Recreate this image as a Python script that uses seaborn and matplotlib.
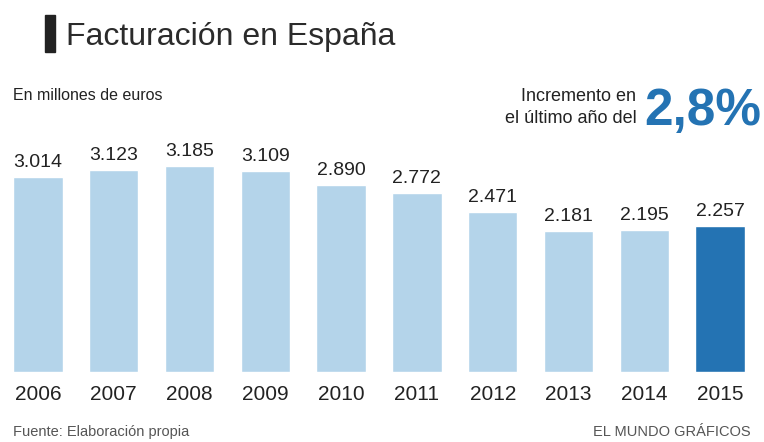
import numpy as np
import matplotlib
matplotlib.use('Agg')
import matplotlib.pyplot as plt
import pandas as pd
import seaborn as sns
from matplotlib.patches import Rectangle

years = ['2006', '2007', '2008', '2009', '2010', '2011', '2012', '2013', '2014', '2015']
values = [3014, 3123, 3185, 3109, 2890, 2772, 2471, 2181, 2195, 2257]
labels = ['3.014', '3.123', '3.185', '3.109', '2.890', '2.772', '2.471', '2.181', '2.195', '2.257']

light = '#b4d4ea'
dark = '#2473b3'

df = pd.DataFrame({'year': years, 'value': values})
df['grupo'] = ['last' if y == years[-1] else 'other' for y in years]

sns.set_style('white')
plt.rcParams['font.family'] = ['Liberation Sans', 'DejaVu Sans']

fig = plt.figure(figsize=(7.64, 4.42), dpi=100)
ax = fig.add_axes([0.0, 0.158, 758 / 764, 0.498])

sns.barplot(data=df, x='year', y='value', hue='grupo',
            palette={'other': light, 'last': dark},
            width=0.65, legend=False, ax=ax, saturation=1)

ax.set_ylim(0, 3400)
ax.set_xlim(-0.5, len(years) - 0.5)
for i, (v, lab) in enumerate(zip(values, labels)):
    ax.text(i, v + 90, lab, ha='center', va='bottom', fontsize=14, color='#222222')

ax.set_yticks([])
ax.set_xlabel('')
ax.set_ylabel('')
ax.tick_params(axis='x', length=0, labelsize=15, colors='#222222', pad=9)
sns.despine(ax=ax, left=True, bottom=True)

# titulo y textos
fig.patches.append(Rectangle((45 / 764, 1 - 52 / 442), 10 / 764, 37 / 442,
                             transform=fig.transFigure, color='#222222'))
fig.text(0.087, 0.916, 'Facturación en España', fontsize=23, color='#2b2b2b', va='center', ha='left')
fig.text(0.017, 0.783, 'En millones de euros', fontsize=11.5, color='#222222', va='center', ha='left')
fig.text(0.833, 0.782, 'Incremento en', fontsize=13, color='#222222', va='center', ha='right')
fig.text(0.833, 0.731, 'el último año del', fontsize=13, color='#222222', va='center', ha='right')
fig.text(0.843, 0.748, '2,8%', fontsize=37, fontweight='bold', color=dark, va='center', ha='left')
fig.text(0.017, 0.022, 'Fuente: Elaboración propia', fontsize=10.5, color='#555555', va='center', ha='left')
fig.text(0.982, 0.022, 'EL MUNDO GRÁFICOS', fontsize=10.5, color='#555555', va='center', ha='right')

fig.savefig('out.png', dpi=100)
